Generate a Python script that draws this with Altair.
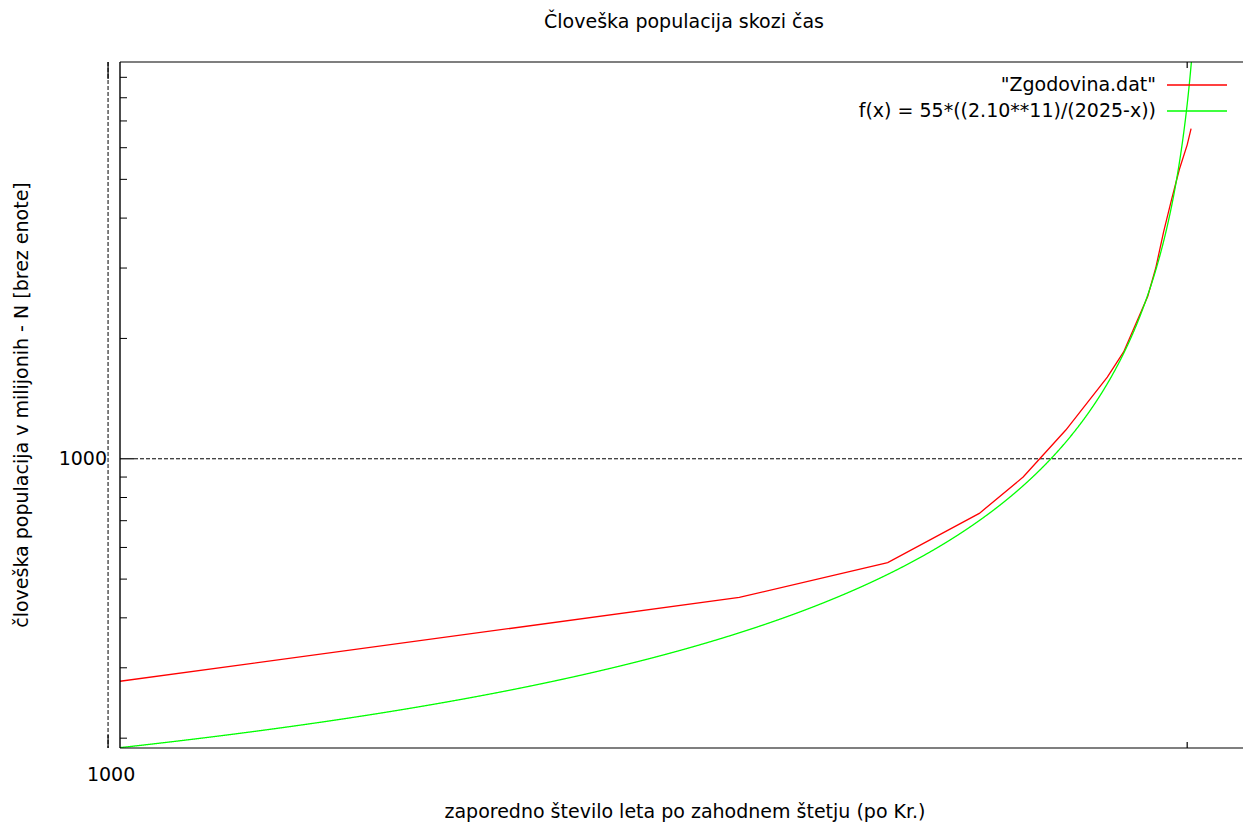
import altair as alt
import pandas as pd

# "Zgodovina.dat": world population (millions) by year
leta = [1000, 1500, 1650, 1750, 1800, 1850, 1900, 1920, 1950, 1960, 1970, 1980, 1990, 2000, 2005]
populacija = [275, 450, 550, 730, 900, 1180, 1600, 1850, 2550, 3000, 3700, 4450, 5300, 6100, 6700]

# model curve f(x) = 55*((2.10**11)/(2025-x))
F_FAKTOR = 55
F_OSNOVA = 2.10
F_POTENCA = 11
F_POL = 2025

# axis ranges (both axes logarithmic)
X_MIN, X_MAX = 1007.7, 2073
Y_MIN, Y_MAX = 189, 9830

# tick positions
y_minor = [200, 300, 400, 500, 600, 700, 800, 900,
           2000, 3000, 4000, 5000, 6000, 7000, 8000, 9000]
y_major = [1000]
x_major = [1000]
x_minor = [2000]

naslov = "Človeška populacija skozi čas"
naslov_x = "zaporedno število leta po zahodnem štetju (po Kr.)"
naslov_y = "človeška populacija v milijonih - N [brez enote]"
legenda = ['"Zgodovina.dat"', "f(x) = 55*((2.10**11)/(2025-x))"]

W, H = 1123, 686
FONT = "DejaVu Sans"
FS = 19
RED = "#ff0000"
GREEN = "#00ff00"
INK = "#000000"
DASH = [4, 2]

xs = alt.Scale(type="log", domain=[X_MIN, X_MAX], nice=False)
ys = alt.Scale(type="log", domain=[Y_MIN, Y_MAX], nice=False)

one = pd.DataFrame({"k": [0]})


def X(field="leto"):
    return alt.X(f"{field}:Q", scale=xs, axis=None)


def Y(field="N"):
    return alt.Y(f"{field}:Q", scale=ys, axis=None)


def text_mark(**kw):
    return alt.Chart(one).mark_text(font=FONT, fontSize=FS, color=INK, baseline="middle", **kw)


podatki = alt.Chart(pd.DataFrame({"leto": leta, "N": populacija})).mark_line(
    color=RED, strokeWidth=1.3, clip=True
).encode(x=X(), y=Y())

model = alt.Chart(alt.sequence(1000, 2024.75, 0.25, as_="leto")).transform_calculate(
    N=f"{F_FAKTOR}*(pow({F_OSNOVA},{F_POTENCA})/({F_POL}-datum.leto))"
).mark_line(color=GREEN, strokeWidth=1.3, clip=True).encode(x=X(), y=Y())

# border: left, top and bottom
left_border = alt.Chart(one).mark_rule(color=INK, strokeWidth=1.4).encode(
    x=alt.value(0), y=alt.value(0), y2=alt.value(H)
)
top_border = alt.Chart(one).mark_rule(color=INK, strokeWidth=1.2).encode(
    x=alt.value(0), x2=alt.value(W), y=alt.value(0)
)
bottom_border = alt.Chart(one).mark_rule(color=INK, strokeWidth=1.2).encode(
    x=alt.value(0), x2=alt.value(W), y=alt.value(H)
)

# y axis: inward ticks, grid line and label at 1000
y_ticks_minor = alt.Chart(pd.DataFrame({"N": y_minor})).mark_rule(color=INK, strokeWidth=1).encode(
    y=Y(), x=alt.value(0), x2=alt.value(7)
)
y_grid = alt.Chart(pd.DataFrame({"N": y_major})).mark_rule(
    color=INK, strokeWidth=1, strokeDash=DASH
).encode(y=Y(), x=alt.value(14), x2=alt.value(W))
y_ticks_major = alt.Chart(pd.DataFrame({"N": y_major})).mark_rule(color=INK, strokeWidth=1.2).encode(
    y=Y(), x=alt.value(0), x2=alt.value(14)
)
y_labels = alt.Chart(pd.DataFrame({"N": y_major})).mark_text(
    font=FONT, fontSize=FS, color=INK, align="right", baseline="middle"
).encode(y=Y(), x=alt.value(-13), text=alt.Text("N:Q", format="d"))

# x axis: grid line, ticks and label at 1000, minor tick at 2000
x_grid = alt.Chart(pd.DataFrame({"leto": x_major})).mark_rule(
    color=INK, strokeWidth=1, strokeDash=DASH
).encode(x=X(), y=alt.value(0), y2=alt.value(H))
x_major_top = alt.Chart(pd.DataFrame({"leto": x_major})).mark_rule(color=INK, strokeWidth=1.2).encode(
    x=X(), y=alt.value(0), y2=alt.value(17)
)
x_major_bot = alt.Chart(pd.DataFrame({"leto": x_major})).mark_rule(color=INK, strokeWidth=1.2).encode(
    x=X(), y=alt.value(H - 13), y2=alt.value(H)
)
x_labels = alt.Chart(pd.DataFrame({"leto": x_major})).mark_text(
    font=FONT, fontSize=FS, color=INK, align="center", baseline="middle", dx=3
).encode(x=X(), y=alt.value(H + 27), text=alt.Text("leto:Q", format="d"))
x_minor_top = alt.Chart(pd.DataFrame({"leto": x_minor})).mark_rule(color=INK, strokeWidth=1.2).encode(
    x=X(), y=alt.value(0), y2=alt.value(6)
)
x_minor_bot = alt.Chart(pd.DataFrame({"leto": x_minor})).mark_rule(color=INK, strokeWidth=1.2).encode(
    x=X(), y=alt.value(H - 6), y2=alt.value(H)
)

# titles
title = text_mark(align="center").encode(x=alt.value(564), y=alt.value(-40), text=alt.value(naslov))
title_x = text_mark(align="center").encode(x=alt.value(565), y=alt.value(H + 64), text=alt.value(naslov_x))
title_y = text_mark(align="center", angle=270).encode(x=alt.value(-98), y=alt.value(H / 2), text=alt.value(naslov_y))

# key in the top-right corner
leg_text = [
    text_mark(align="right").encode(x=alt.value(1036), y=alt.value(yy), text=alt.value(t))
    for t, yy in zip(legenda, [23, 49])
]
leg_line = [
    alt.Chart(one).mark_rule(color=c, strokeWidth=1.3).encode(
        x=alt.value(1047), x2=alt.value(1107), y=alt.value(yy)
    )
    for c, yy in zip([RED, GREEN], [23, 49])
]

chart = alt.layer(
    y_grid, x_grid, podatki, model,
    left_border, top_border, bottom_border,
    y_ticks_minor, y_ticks_major, y_labels,
    x_major_top, x_major_bot, x_labels, x_minor_top, x_minor_bot,
    title, title_x, title_y, *leg_text, *leg_line
).properties(
    width=W, height=H,
    autosize=alt.AutoSizeParams(type="none"),
    padding={"left": 120, "top": 62, "right": 0, "bottom": 76},
    background="white",
).configure_view(strokeWidth=0)

chart.save("out.html", embed_options={"renderer": "svg", "actions": False})
